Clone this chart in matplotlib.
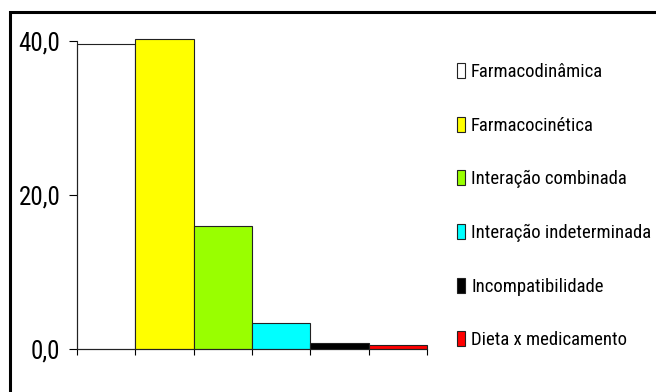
import matplotlib.pyplot as plt
from matplotlib.patches import Rectangle

# ========== DATA ==========

categories = ["Farmacodinâmica", "Farmacocinética", "Interação combinada",
              "Interação indeterminada", "Incompatibilidade", "Dieta x medicamento"]
values = [39.6, 40.2, 16.0, 3.4, 0.8, 0.6]
colors = ["#ffffff", "#ffff00", "#99ff00", "#00ffff", "#000000", "#ff0000"]
yticks = [0, 20, 40]
ytick_labels = ["0,0", "20,0", "40,0"]

# ========== FONT ==========

plt.rcParams["font.family"] = ["Roboto Condensed", "DejaVu Sans"]

# ========== PLOT ==========

fig = plt.figure(figsize=(6.56, 3.92), dpi=100)
ax = fig.add_axes([77 / 656, 42.7 / 392, 350 / 656, 308.3 / 392])

x = list(range(len(values)))
bars = ax.bar(x, values, width=1.0, color=colors, edgecolor="#222222",
              linewidth=0.8, align="edge", clip_on=False)

ax.set_xlim(0, len(values))
ax.set_ylim(0, 40)
ax.set_yticks(yticks)
ax.set_yticklabels(ytick_labels, fontsize=18)
ax.set_xticks(range(len(values) + 1))
ax.set_xticklabels([])
ax.tick_params(axis="y", direction="out", length=6, width=0.8, pad=6)
ax.tick_params(axis="x", direction="out", length=4, width=0.8)
for side in ["top", "right"]:
    ax.spines[side].set_visible(False)
for side in ["left", "bottom"]:
    ax.spines[side].set_linewidth(0.8)
    ax.spines[side].set_color("#222222")

# ========== LEGEND ==========

for b, lab in zip(bars, categories):
    b.set_label(lab)
leg = ax.legend(loc="upper left", bbox_to_anchor=(457 / 656, 329 / 392),
                bbox_transform=fig.transFigure, frameon=False, fontsize=13.5,
                handlelength=0.45, handleheight=0.85, handletextpad=0.3,
                labelspacing=1.9, borderaxespad=0, borderpad=0)

# outer frame
fig.patches.append(Rectangle((10 / 656, -0.05), 1.0, 380 / 392 + 0.05,
                             transform=fig.transFigure, fill=False,
                             edgecolor="black", linewidth=2.2))

plt.savefig("out.png", dpi=100)
